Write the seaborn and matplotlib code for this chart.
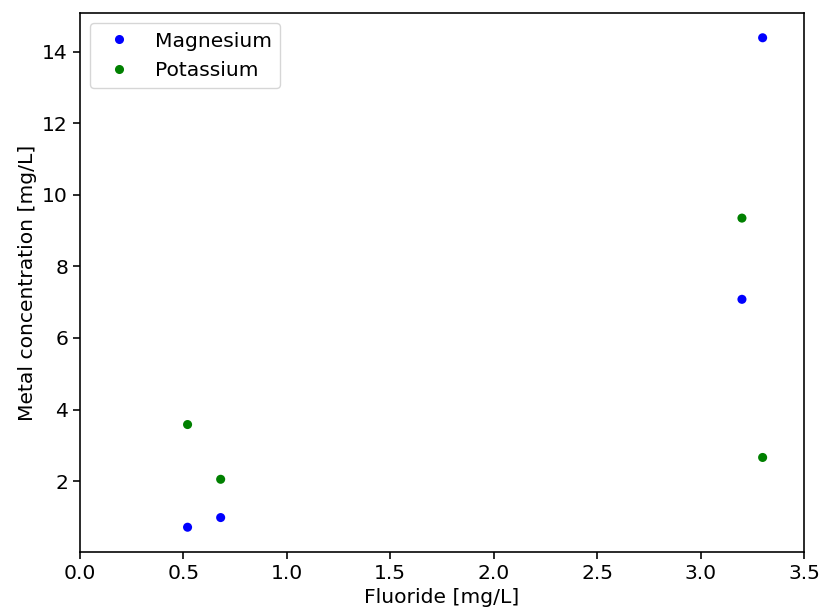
import matplotlib
matplotlib.use("Agg")
import matplotlib.pyplot as plt
import seaborn as sns
import pandas as pd

fluoride = [0.52, 0.68, 3.2, 3.3]
magnesium = [0.71, 0.98, 7.08, 14.39]
potassium = [3.58, 2.05, 9.35, 2.66]
series_names = ["Magnesium", "Potassium"]
colors = {"Magnesium": "blue", "Potassium": "green"}

df = pd.concat([
    pd.DataFrame({"Fluoride": fluoride, "value": magnesium, "metal": series_names[0]}),
    pd.DataFrame({"Fluoride": fluoride, "value": potassium, "metal": series_names[1]}),
])

S = 1.46
plt.rcParams["font.family"] = ["DejaVu Sans"]
plt.rcParams["font.size"] = 10 * S

fig = plt.figure(figsize=(8.21, 6.13), dpi=100)
ax = fig.add_axes([80 / 821, 1 - 551.7 / 613, (804 - 80) / 821, (551.7 - 13.3) / 613])
sns.scatterplot(data=df, x="Fluoride", y="value", hue="metal", palette=colors,
                s=20 * S * S, linewidth=0, ax=ax)
ax.set_xlim(0, 3.5)
ax.set_xlabel("Fluoride [mg/L]", fontsize=10 * S)
ax.set_ylabel("Metal concentration [mg/L]", fontsize=10 * S)
ax.tick_params(labelsize=10 * S, width=0.8 * S, length=3.5 * S)
for sp in ax.spines.values():
    sp.set_linewidth(0.8 * S)
leg = ax.legend(loc="upper left", fontsize=10 * S, title=None)
fig.savefig("out.png", dpi=100)
